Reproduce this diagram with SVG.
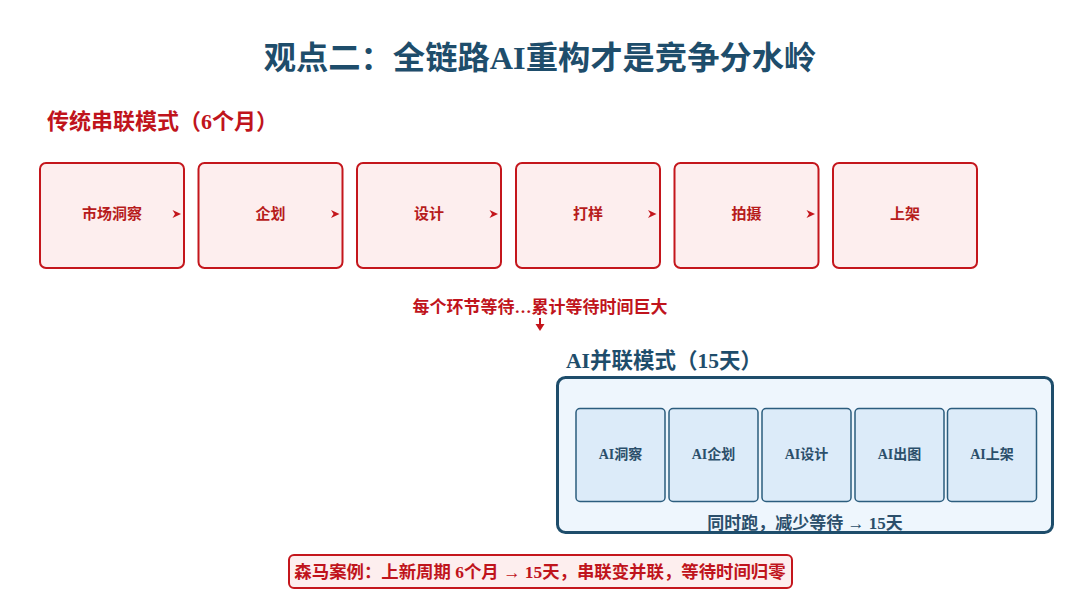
<svg xmlns="http://www.w3.org/2000/svg" width="1080" height="610" viewBox="0 0 1080 610">
<style>
text{font-family:"Liberation Serif","Noto Sans CJK SC",serif;font-weight:bold}
.title{font-size:32.3px;fill:#1e4d6b}
.h-red{font-size:22px;fill:#c0141c}
.h-blue{font-size:21.5px;fill:#1e4d6b}
.rbox{fill:#fdeeee;stroke:#c4161c;stroke-width:2}
.rt{font-size:15px;fill:#b71c1c;text-anchor:middle}
.bbox{fill:#dcebf9;stroke:#2b5d7e;stroke-width:1.5}
.bt{font-size:14px;fill:#2b4f6b;text-anchor:middle}
.arr{fill:#c4161c}
</style>
<rect width="1080" height="610" fill="#ffffff"/>
<text class="title" x="540" y="69" text-anchor="middle">观点二：全链路AI重构才是竞争分水岭</text>
<text class="h-red" x="47" y="129">传统串联模式（6个月）</text>

<g id="n1"><rect class="rbox" x="40" y="163" width="144" height="105" rx="6"/><text class="rt" x="112" y="219">市场洞察</text></g>
<g id="n2"><rect class="rbox" x="198.5" y="163" width="144" height="105" rx="6"/><text class="rt" x="270.5" y="219">企划</text></g>
<g id="n3"><rect class="rbox" x="357" y="163" width="144" height="105" rx="6"/><text class="rt" x="429" y="219">设计</text></g>
<g id="n4"><rect class="rbox" x="516" y="163" width="144" height="105" rx="6"/><text class="rt" x="588" y="219">打样</text></g>
<g id="n5"><rect class="rbox" x="674.5" y="163" width="144" height="105" rx="6"/><text class="rt" x="746.5" y="219">拍摄</text></g>
<g id="n6"><rect class="rbox" x="833" y="163" width="144" height="105" rx="6"/><text class="rt" x="905" y="219">上架</text></g>

<g id="connectors">
<path class="arr" d="M172.5 210 L181 214 L172.5 218 L175 214 Z"/>
<path class="arr" d="M331 210 L339.5 214 L331 218 L333.5 214 Z"/>
<path class="arr" d="M489.5 210 L498 214 L489.5 218 L492 214 Z"/>
<path class="arr" d="M648 210 L656.5 214 L648 218 L650.5 214 Z"/>
<path class="arr" d="M806.5 210 L815 214 L806.5 218 L809 214 Z"/>
<line x1="540" y1="318" x2="540" y2="325" stroke="#c4161c" stroke-width="2"/>
<path class="arr" d="M535.5 324 L544.5 324 L540 331 Z"/>
</g>

<text x="540" y="313" text-anchor="middle" style="font-size:17px;fill:#c0141c">每个环节等待…累计等待时间巨大</text>

<text class="h-blue" x="566" y="368">AI并联模式（15天）</text>

<g id="parallel">
<rect x="557.5" y="377.5" width="495" height="155" rx="8" fill="#eef6fd" stroke="#1e4d6b" stroke-width="3"/>
<g id="p1"><rect class="bbox" x="576" y="408.5" width="89" height="93" rx="4"/><text class="bt" x="620.5" y="459">AI洞察</text></g>
<g id="p2"><rect class="bbox" x="669" y="408.5" width="89" height="93" rx="4"/><text class="bt" x="713.5" y="459">AI企划</text></g>
<g id="p3"><rect class="bbox" x="762" y="408.5" width="89" height="93" rx="4"/><text class="bt" x="806.5" y="459">AI设计</text></g>
<g id="p4"><rect class="bbox" x="855" y="408.5" width="89" height="93" rx="4"/><text class="bt" x="899.5" y="459">AI出图</text></g>
<g id="p5"><rect class="bbox" x="947.5" y="408.5" width="89" height="93" rx="4"/><text class="bt" x="992" y="459">AI上架</text></g>
<text x="805" y="529" text-anchor="middle" style="font-size:17px;fill:#2b4f6b">同时跑，减少等待 → 15天</text>
</g>

<g id="case">
<rect x="289" y="555" width="503" height="33" rx="5" fill="#fdeeee" stroke="#c4161c" stroke-width="2"/>
<text x="540" y="577.5" text-anchor="middle" style="font-size:17.4px;fill:#c0141c">森马案例：上新周期 6个月 → 15天，串联变并联，等待时间归零</text>
</g>
</svg>
